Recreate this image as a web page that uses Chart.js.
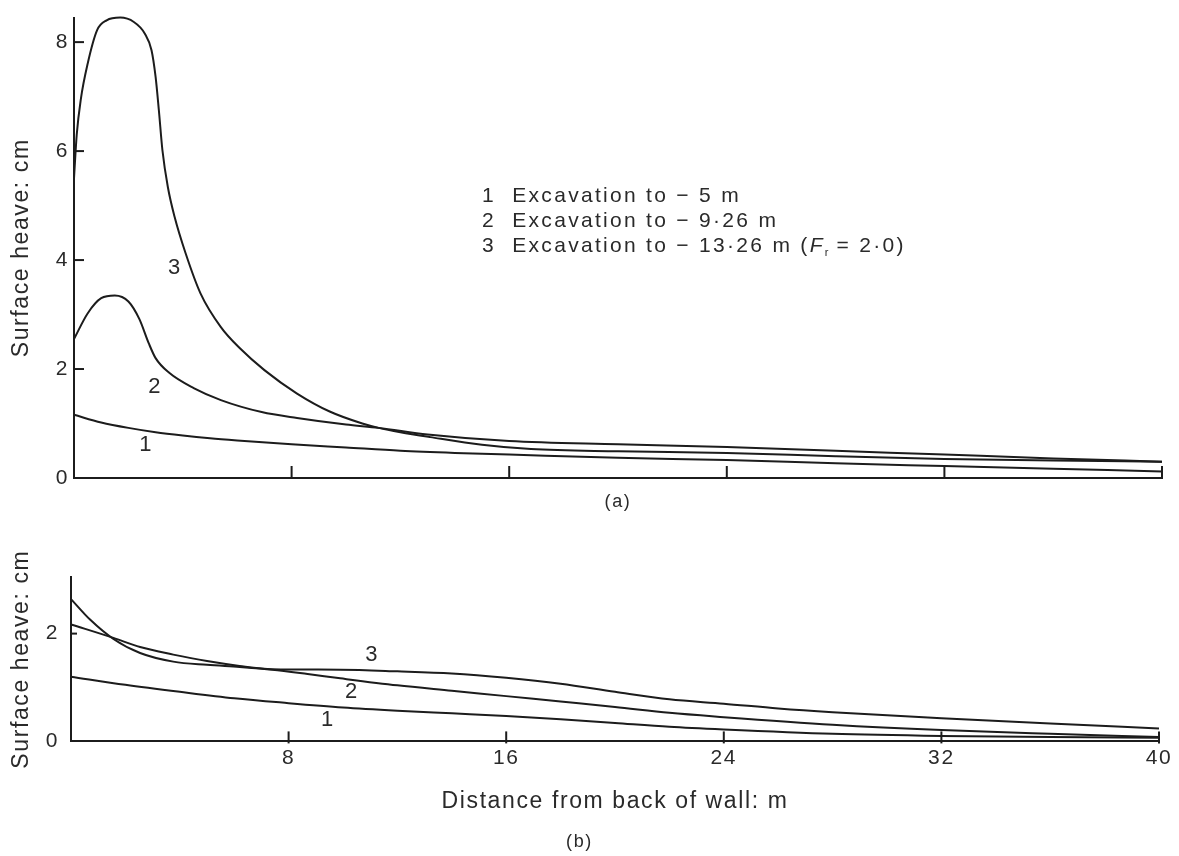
<!DOCTYPE html>
<html><head><meta charset="utf-8">
<script src="https://cdn.jsdelivr.net/npm/chart.js@4.4.0/dist/chart.umd.min.js"></script>
<style>
html,body{margin:0;padding:0;background:#fff;}
#wrap{position:relative;width:1179px;height:856px;overflow:hidden;font-family:"Liberation Sans",Arial,sans-serif;color:#2a2a2a;}
canvas{position:absolute;left:0;}
#ca{top:0;}
#cb{top:530px;}
.leg{position:absolute;left:482px;font-size:21px;letter-spacing:2.3px;line-height:25px;white-space:nowrap;}
.leg sub{font-size:11px;vertical-align:-4px;letter-spacing:0;}
</style></head><body>
<div id="wrap">
<canvas id="ca" width="1179" height="525"></canvas>
<canvas id="cb" width="1179" height="326"></canvas>
<div id="legend"></div>
</div>
<script>
// ---------- data ----------
// Panel (a)
const a1x = [0, 1, 2, 3, 4, 5, 6, 8, 10, 12, 14, 16, 20, 24, 28, 32, 36, 40];
const a1y = [1.16, 1.02, 0.92, 0.84, 0.78, 0.73, 0.69, 0.62, 0.56, 0.50, 0.46, 0.43, 0.37, 0.33, 0.27, 0.22, 0.17, 0.12];
const a2x = [0, 0.5, 1, 1.5, 2, 2.4, 2.75, 3, 3.5, 4.4, 5.4, 6.9, 8.2, 10, 11.2, 13, 16, 20, 24, 28, 32, 36, 40];
const a2y = [2.55, 3.02, 3.30, 3.35, 3.24, 2.92, 2.47, 2.20, 1.93, 1.65, 1.43, 1.21, 1.10, 0.98, 0.92, 0.80, 0.68, 0.62, 0.57, 0.50, 0.43, 0.36, 0.30];
const a3x = [0, 0.1, 0.25, 0.5, 0.85, 1.2, 1.7, 2.2, 2.6, 2.85, 3.0, 3.12, 3.25, 3.45, 3.7, 4.1, 4.65, 5.4, 6.1, 7, 8.2, 9.4, 10.6, 11.2, 12, 13.1, 15, 16.8, 20, 24, 28, 32, 36, 40];
const a3y = [5.5, 6.3, 6.95, 7.6, 8.22, 8.40, 8.45, 8.37, 8.16, 7.85, 7.36, 6.75, 6.02, 5.34, 4.79, 4.13, 3.39, 2.77, 2.38, 1.98, 1.55, 1.22, 1.00, 0.92, 0.84, 0.75, 0.61, 0.53, 0.49, 0.46, 0.40, 0.35, 0.32, 0.30];
// Panel (b)
const b1x = [0, 2, 4, 6, 8, 10, 12, 14, 16, 18, 20, 22, 24, 28, 32, 36, 40];
const b1y = [1.20, 1.05, 0.92, 0.80, 0.71, 0.63, 0.57, 0.52, 0.47, 0.41, 0.34, 0.27, 0.22, 0.14, 0.10, 0.08, 0.07];
const b2x = [0, 0.7, 1.56, 2.54, 3.76, 5, 6.2, 7.4, 8.7, 9.9, 12, 14, 16, 18, 20, 22, 24, 28, 32, 36, 40];
const b2y = [2.64, 2.26, 1.90, 1.64, 1.48, 1.42, 1.38, 1.33, 1.25, 1.17, 1.04, 0.94, 0.84, 0.74, 0.64, 0.53, 0.45, 0.31, 0.21, 0.14, 0.08];
const b3x = [0, 1.56, 2.54, 3.76, 5, 6.2, 7.4, 9.9, 12, 14, 16, 18, 20, 22, 24, 26, 28, 32, 36, 40];
const b3y = [2.17, 1.92, 1.75, 1.61, 1.49, 1.40, 1.34, 1.33, 1.30, 1.26, 1.18, 1.07, 0.92, 0.78, 0.70, 0.61, 0.54, 0.43, 0.33, 0.24];

// ticks
const xTickMarks = [8, 16, 24, 32, 40];
const xTickLabelsB = [8, 16, 24, 32, 40];
const yTicksA = [0, 2, 4, 6, 8];
const yTicksB = [0, 2];

// text
const legendItems = [
  '1&nbsp; Excavation to − 5 m',
  '2&nbsp; Excavation to − 9·26 m',
  '3&nbsp; Excavation to − 13·26 m (<i>F</i><sub>r</sub> = 2·0)'
];
const yTitle = 'Surface heave: cm';
const xTitle = 'Distance from back of wall: m';
const curveLabelsA = [{text:'3', x:3.71, y:3.85}, {text:'2', x:2.98, y:1.67}, {text:'1', x:2.65, y:0.60}];
const curveLabelsB = [{text:'3', x:11.07, y:1.60}, {text:'2', x:10.33, y:0.91}, {text:'1', x:9.45, y:0.39}];

// ---------- rendering ----------
const INK = '#1c1c1c';
const TXT = '#2a2a2a';
const FONT = '"Liberation Sans", Arial, sans-serif';

const legendEl = document.getElementById('legend');
legendItems.forEach((t, i) => {
  const d = document.createElement('div');
  d.className = 'leg';
  d.style.top = (182 + i * 25) + 'px';
  d.innerHTML = t;
  legendEl.appendChild(d);
});

const spacing = {
  id: 'spacing',
  beforeDraw(chart) { chart.ctx.letterSpacing = '1.6px'; }
};

const annot = {
  id: 'annot',
  afterDatasetsDraw(chart, args, opts) {
    const {ctx, chartArea} = chart;
    const x = chart.scales.x, y = chart.scales.y;
    ctx.save();
    ctx.strokeStyle = INK;
    ctx.lineWidth = 2;
    opts.xMarks.forEach(v => {
      const px = x.getPixelForValue(v);
      ctx.beginPath();
      ctx.moveTo(px, chartArea.bottom + opts.xDown);
      ctx.lineTo(px, chartArea.bottom - opts.xLen);
      ctx.stroke();
    });
    opts.yMarks.forEach(v => {
      const py = y.getPixelForValue(v);
      ctx.beginPath();
      ctx.moveTo(chartArea.left, py);
      ctx.lineTo(chartArea.left + opts.yLen, py);
      ctx.stroke();
    });
    ctx.fillStyle = TXT;
    ctx.font = '22px ' + FONT;
    ctx.textAlign = 'center';
    ctx.textBaseline = 'middle';
    opts.labels.forEach(l => ctx.fillText(l.text, x.getPixelForValue(l.x), y.getPixelForValue(l.y)));
    ctx.restore();
  }
};

function ds(xs, ys) {
  return {
    data: xs.map((v, i) => ({x: v, y: ys[i]})),
    borderColor: INK, borderWidth: 2, pointRadius: 0, fill: false,
    cubicInterpolationMode: 'monotone', clip: false
  };
}

// Panel (a)
new Chart(document.getElementById('ca'), {
  type: 'line',
  data: {datasets: [ds(a1x, a1y), ds(a2x, a2y), ds(a3x, a3y)]},
  plugins: [spacing, annot],
  options: {
    responsive: false, animation: false,
    layout: {padding: {left: 0, right: 17, top: 0, bottom: 0}},
    plugins: {
      legend: {display: false}, tooltip: {enabled: false},
      annot: {xMarks: xTickMarks, xLen: 12, xDown: 0, yMarks: yTicksA.slice(1), yLen: 10, labels: curveLabelsA}
    },
    scales: {
      x: {
        type: 'linear', min: 0, max: 40,
        grid: {display: false, drawTicks: false},
        border: {display: true, color: INK, width: 2},
        ticks: {display: false},
        afterBuildTicks: s => { s.ticks = xTickMarks.map(v => ({value: v})); },
        afterFit: s => { s.height = 47; },
        title: {display: true, text: '(a)', color: TXT, font: {family: FONT, size: 18}, padding: {top: 0, bottom: 12}}
      },
      y: {
        type: 'linear', min: 0, max: 8.45,
        grid: {display: false, drawTicks: false},
        border: {display: true, color: INK, width: 2},
        ticks: {color: TXT, font: {family: FONT, size: 21}, padding: 5},
        afterBuildTicks: s => { s.ticks = yTicksA.map(v => ({value: v})); },
        afterFit: s => { s.width = 74; },
        title: {display: true, text: yTitle, color: TXT, font: {family: FONT, size: 23}, padding: {top: 8, bottom: 0}}
      }
    }
  }
});

// Panel (b)
new Chart(document.getElementById('cb'), {
  type: 'line',
  data: {datasets: [ds(b1x, b1y), ds(b2x, b2y), ds(b3x, b3y)]},
  plugins: [spacing, annot],
  options: {
    responsive: false, animation: false,
    layout: {padding: {left: 0, right: 20, top: 47, bottom: 0}},
    plugins: {
      legend: {display: false}, tooltip: {enabled: false},
      title: {display: true, text: '(b)', position: 'bottom', color: TXT, font: {family: FONT, size: 18, weight: 'normal'}, padding: {top: 8, bottom: 3}},
      annot: {xMarks: xTickMarks, xLen: 10, xDown: 2, yMarks: yTicksB.slice(1), yLen: 6, labels: curveLabelsB}
    },
    scales: {
      x: {
        type: 'linear', min: 0, max: 40,
        grid: {display: false, drawTicks: false},
        border: {display: true, color: INK, width: 2},
        ticks: {color: TXT, font: {family: FONT, size: 21}, padding: 4, maxRotation: 0},
        afterBuildTicks: s => { s.ticks = xTickLabelsB.map(v => ({value: v})); },
        afterFit: s => { s.height = 82; },
        title: {display: true, text: xTitle, color: TXT, font: {family: FONT, size: 23}, padding: {top: 0, bottom: 8}}
      },
      y: {
        type: 'linear', min: 0, max: 3.05,
        grid: {display: false, drawTicks: false},
        border: {display: true, color: INK, width: 2},
        ticks: {color: TXT, font: {family: FONT, size: 21}, padding: 12},
        afterBuildTicks: s => { s.ticks = yTicksB.map(v => ({value: v})); },
        afterFit: s => { s.width = 71; },
        title: {display: true, text: yTitle, color: TXT, font: {family: FONT, size: 23}, padding: {top: 8, bottom: 0}}
      }
    }
  }
});
</script>
</body></html>
